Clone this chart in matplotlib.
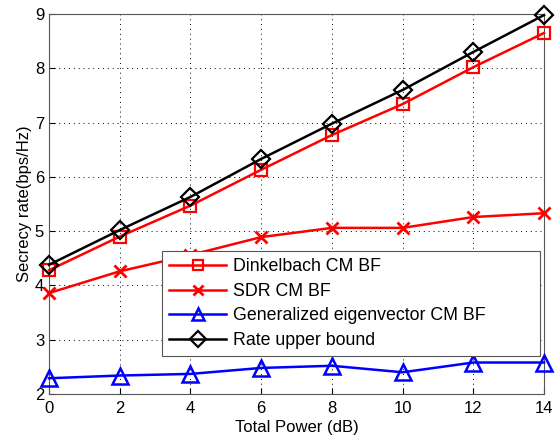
import numpy as np
import matplotlib.pyplot as plt

plt.rcParams['font.family'] = ['Liberation Sans', 'DejaVu Sans']

power_db = [0, 2, 4, 6, 8, 10, 12, 14]
dinkelbach = [4.28, 4.90, 5.47, 6.13, 6.77, 7.34, 8.02, 8.65]
sdr = [3.86, 4.26, 4.56, 4.89, 5.06, 5.06, 5.26, 5.33]
gen_eig = [2.29, 2.34, 2.37, 2.48, 2.52, 2.40, 2.58, 2.58]
upper_bound = [4.38, 5.02, 5.63, 6.33, 6.98, 7.60, 8.30, 8.98]

fig = plt.figure(figsize=(5.56, 4.45), dpi=100)
ax = fig.add_axes([49 / 556, 1 - 394 / 445, (544 - 49) / 556, (394 - 14) / 445])

ax.plot(power_db, dinkelbach, '-s', color='red', lw=1.8, ms=9, mfc='none', mew=1.6,
        label='Dinkelbach CM BF', clip_on=False, zorder=3)
ax.plot(power_db, sdr, '-x', color='red', lw=1.8, ms=8, mew=2,
        label='SDR CM BF', clip_on=False, zorder=3)
ax.plot(power_db, gen_eig, '-^', color='blue', lw=1.8, ms=11, mfc='none', mew=1.8,
        label='Generalized eigenvector CM BF', clip_on=False, zorder=3)
ax.plot(power_db, upper_bound, '-D', color='black', lw=1.8, ms=9, mfc='none', mew=1.6,
        label='Rate upper bound', clip_on=False, zorder=3)

ax.set_xlim(0, 14)
ax.set_ylim(2, 9)
ax.set_xticks(np.arange(0, 15, 2))
ax.set_yticks(np.arange(2, 10, 1))
ax.grid(True, ls=(0, (1, 4)), color='black', lw=0.7)
ax.tick_params(direction='in', labelsize=12, length=4)
ax.tick_params(axis='x', pad=5)
for s in ax.spines.values():
    s.set_color('#555555')
ax.set_xlabel('Total Power (dB)', fontsize=12, labelpad=3)
ax.set_ylabel('Secrecy rate(bps/Hz)', fontsize=12, labelpad=2)

leg = ax.legend(loc='lower left', bbox_to_anchor=((162 - 49) / 495, (394 - 356) / 380,
                                                  (540 - 162) / 495, (356 - 257) / 380),
                mode='expand', fontsize=12.8, fancybox=False, framealpha=1,
                edgecolor='#555555', handlelength=3.2, borderaxespad=0,
                labelspacing=0.42, handletextpad=0.4, borderpad=0.4,
                markerscale=0.85)
leg.get_frame().set_linewidth(0.8)
leg.set_zorder(5)

fig.savefig('out.png', dpi=100)
